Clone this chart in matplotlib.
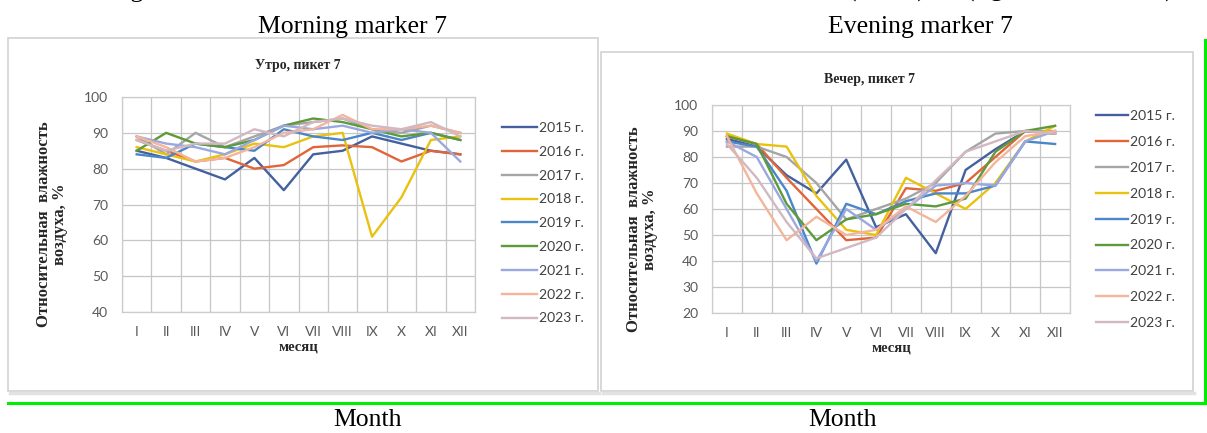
import numpy as np
import matplotlib.pyplot as plt
from matplotlib.lines import Line2D
from matplotlib.patches import Rectangle
from matplotlib.ticker import MultipleLocator

# размер рисунка в пикселях
W, H = 1207, 433

months = ['I', 'II', 'III', 'IV', 'V', 'VI', 'VII', 'VIII', 'IX', 'X', 'XI', 'XII']
years = ['2015 г.', '2016 г.', '2017 г.', '2018 г.', '2019 г.',
         '2020 г.', '2021 г.', '2022 г.', '2023 г.']
colors = ['#44609e', '#e0653a', '#a5a5a5', '#e8c20f', '#4a86c8',
          '#5f9a3a', '#9aa8e0', '#f4b59a', '#d2b8c0']

# относительная влажность воздуха, утро, пикет 7
morning = [
    [85, 83, 80, 77, 83, 74, 84, 85, 89, 87, 85, 84],    # 2015
    [88, 85, 82, 83, 80, 81, 86, 86.5, 86, 82, 85, 84],  # 2016
    [89, 84, 90, 86, 89, 92, 93, 94, 91, 90, 92, 90],    # 2017
    [86, 84, 82, 84, 87, 86, 89, 90, 61, 72, 88, 89],    # 2018
    [84, 83, 87, 86, 85, 91, 89, 88, 90, 88, 90, 88],    # 2019
    [85, 90, 87, 86, 88, 92, 94, 93, 91, 89, 90, 88],    # 2020
    [89, 87, 86, 84, 88, 92, 91, 92, 90, 91, 90, 82],    # 2021
    [89, 86, 82, 83, 86, 90, 91, 95, 91, 91, 92, 90],    # 2022
    [88, 85, 87, 87, 91, 89, 93, 94, 92, 91, 93, 89],    # 2023
]

# относительная влажность воздуха, вечер, пикет 7
evening = [
    [87, 84, 73, 66, 79, 53, 58, 43, 75, 83, 90, 89],  # 2015
    [88, 85, 72, 60, 48, 49, 68, 67, 70, 80, 90, 89],  # 2016
    [84, 84, 80, 70, 56, 60, 64, 70, 82, 89, 90, 90],  # 2017
    [89, 85, 84, 65, 52, 50, 72, 66, 60, 70, 86, 92],  # 2018
    [86, 84, 67, 39, 62, 58, 63, 66, 66, 69, 86, 85],  # 2019
    [88, 85, 62, 48, 56, 58, 62, 61, 64, 82, 90, 92],  # 2020
    [86, 80, 60, 40, 60, 52, 60, 69, 70, 69, 86, 90],  # 2021
    [88, 66, 48, 57, 50, 52, 61, 55, 65, 78, 88, 90],  # 2022
    [85, 72, 55, 41, 45, 49, 60, 71, 82, 86, 90, 89],  # 2023
]

serif = 'Liberation Serif'
sans = 'Lato'
grid_c = '#c6c6c6'
tick_c = '#595959'

fig = plt.figure(figsize=(W / 100, H / 100), dpi=100)


def fx(x):
    return x / W


def fy(y):
    return 1 - y / H


def frame(x0, y0, x1, y1):
    # рамка области диаграммы с лёгкой тенью снизу
    fig.add_artist(Line2D([fx(x0 + 2), fx(x1 + 1)], [fy(y1 + 2), fy(y1 + 2)],
                          color='#e2e2e2', lw=2.5, transform=fig.transFigure))
    fig.add_artist(Rectangle((fx(x0), fy(y1)), fx(x1 - x0), (y1 - y0) / H,
                             transform=fig.transFigure, fill=False,
                             ec='#d2d2d2', lw=1.2))


def panel(box, data, ymin, title, title_xy, leg_xy, leg_gap, handle_len):
    x0, y0, x1, y1 = box
    ax = fig.add_axes([fx(x0), fy(y1), fx(x1 - x0), (y1 - y0) / H])
    x = np.arange(len(months))
    for vals, c, lab in zip(data, colors, years):
        ax.plot(x, vals, color=c, lw=1.7, label=lab, solid_joinstyle='round')
    ax.set_xlim(-0.5, 11.5)
    ax.set_ylim(ymin, 100)
    ax.set_xticks(x)
    ax.set_xticklabels(months)
    ax.set_yticks(np.arange(ymin, 101, 10))
    ax.xaxis.set_minor_locator(MultipleLocator(0.5))
    ax.grid(which='minor', axis='x', color=grid_c, lw=0.9)
    ax.grid(which='major', axis='y', color=grid_c, lw=0.9)
    ax.set_axisbelow(True)
    ax.tick_params(which='both', length=0, colors=tick_c, labelsize=10, pad=10)
    for lab in ax.get_xticklabels() + ax.get_yticklabels():
        lab.set_family(sans)
    for s in ax.spines.values():
        s.set_color('#cccccc')
        s.set_linewidth(0.9)

    cx = (x0 + x1) / 2
    fig.text(fx(title_xy[0]), fy(title_xy[1]), title, family=serif,
             weight='bold', fontsize=10, ha='center', va='center',
             color='#262626')
    fig.text(fx(cx), fy(y1 + 35), 'месяц', family=serif, weight='bold',
             fontsize=10.5, ha='center', va='center', color='#262626')
    fig.text(fx(x0 - 70), fy((y0 + y1) / 2 + 20),
             'Относительная  влажность\nвоздуха, %', family=serif,
             weight='bold', fontsize=12, rotation=90, ha='center',
             va='center', multialignment='center', linespacing=1.0,
             color='#262626')
    ax.legend(loc='upper left', bbox_to_anchor=(fx(leg_xy[0]), fy(leg_xy[1])),
              bbox_transform=fig.transFigure, frameon=False,
              prop={'family': sans, 'size': 10}, labelcolor='#404040',
              handlelength=handle_len, handletextpad=0.15,
              labelspacing=leg_gap, borderpad=0, borderaxespad=0)
    return ax


frame(8, 38, 598, 391)
frame(601, 52, 1193, 391)

panel((122, 97, 475, 312), morning, 40, 'Утро, пикет 7', (298, 66),
      (502, 122), 0.85, 2.5)
panel((712, 105, 1070, 313), evening, 20, 'Вечер, пикет 7', (870, 79),
      (1096, 110), 1.0, 2.3)

# подписи над и под диаграммами
fig.text(fx(352), fy(33), 'Morning marker 7', family=serif, fontsize=18.5,
         ha='center', va='baseline')
fig.text(fx(920), fy(33), 'Evening marker 7', family=serif, fontsize=18.5,
         ha='center', va='baseline')
fig.text(fx(368), fy(426), 'Month', family=serif, fontsize=18.5,
         ha='center', va='baseline')
fig.text(fx(843), fy(426), 'Month', family=serif, fontsize=18.5,
         ha='center', va='baseline')

# строка подписи рисунка, от которой видны лишь нижние выносные элементы
fig.text(fx(76), fy(-3), 'Changes in relative air moisture', family=serif,
         fontsize=18.5, ha='left', va='baseline')
fig.text(fx(848), fy(-3), '(above)', family=serif, fontsize=18.5,
         ha='left', va='baseline')
fig.text(fx(966), fy(-3), '(right column chart)', family=serif, fontsize=18.5,
         ha='left', va='baseline')

# зелёная рамка
green = '#00ee00'
fig.add_artist(Line2D([fx(8), fx(1205)], [fy(403), fy(403)], color=green,
                      lw=2.2, transform=fig.transFigure))
fig.add_artist(Line2D([fx(1205), fx(1205)], [fy(40), fy(403)], color=green,
                      lw=2.2, transform=fig.transFigure))

fig.savefig('out.png', dpi=100)
